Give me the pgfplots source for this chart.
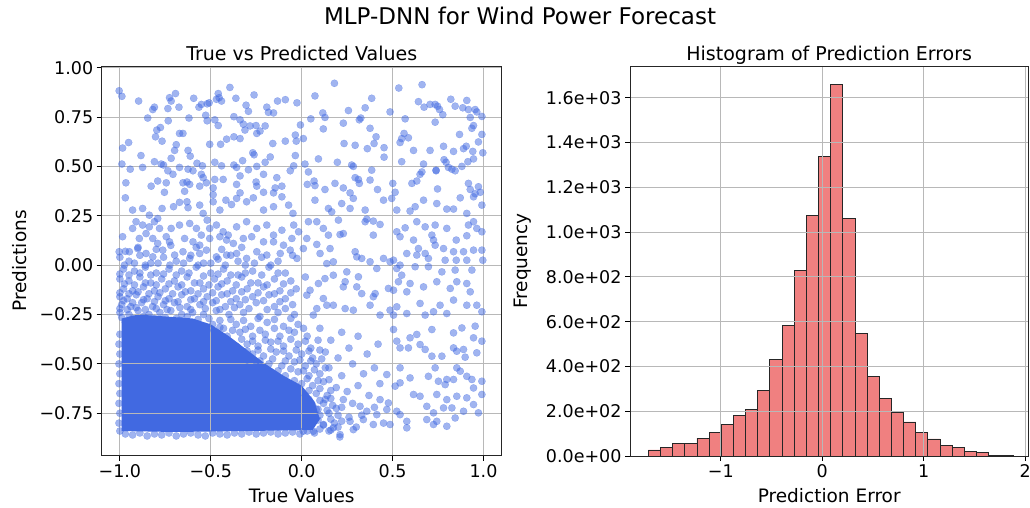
\documentclass[border=0pt]{standalone}
\usepackage{fontspec}
\setmainfont{DejaVu Sans}
\usepackage{pgfplots}
\pgfplotsset{compat=1.18}
\definecolor{rb}{HTML}{4169E1}
\definecolor{lc}{HTML}{F08080}
\definecolor{gridc}{HTML}{B8B8B8}
\pgfplotsset{
  mystyle/.style={
    scale only axis,
    tick align=outside, tick pos=left, major tick length=5pt,
    tick style={black, line width=0.8pt},
    axis line style={line width=0.8pt, black!85},
    grid=major, grid style={gridc, line width=0.8pt},
    axis on top,
    ticklabel style={font=\fontsize{17.5}{20}\selectfont},
  }
}
\begin{document}
\begin{tikzpicture}
\useasboundingbox (0pt,0pt) rectangle (1030pt,508pt);
\begin{scope}[xshift=101.7pt, yshift=52.3pt]
\begin{axis}[mystyle, anchor=south west, at={(0pt,0pt)}, width=400pt, height=389pt,
  xmin=-1.1, xmax=1.1, ymin=-0.965, ymax=1.005,
  xtick={-1,-0.5,0,0.5,1}, xticklabels={−1.0,−0.5,0.0,0.5,1.0},
  ytick={-0.75,-0.5,-0.25,0,0.25,0.5,0.75,1},
  yticklabels={−0.75,−0.50,−0.25,0.00,0.25,0.50,0.75,1.00}]
\addplot[fill=rb, draw=none, mark=none] coordinates {
(-0.99,-0.84) (-0.99,-0.27) (-0.9,-0.25) (-0.75,-0.26) (-0.6,-0.27) (-0.5,-0.30)
(-0.4,-0.36) (-0.3,-0.43) (-0.2,-0.50) (-0.1,-0.56) (0.0,-0.61) (0.07,-0.69)
(0.1,-0.78) (0.06,-0.835) (-0.3,-0.84) (-0.7,-0.845)};
\addplot[only marks, mark=*, mark size=3.65pt,
  mark options={solid, fill=rb, draw=rb, fill opacity=0.5, draw opacity=0.5, line width=0.2pt}]
coordinates {
(-1.004,0.883) (-0.989,0.855) (-0.897,0.831) (-0.819,0.788) (-0.810,0.800) (-0.847,0.745) (-0.727,0.848) (-0.718,0.831) (-0.694,0.869) (-0.736,0.793) (-0.675,0.800) (-0.594,0.845) (-0.565,0.800) (-0.552,0.814) (-0.520,0.817) (-0.509,0.822) (-0.459,0.869) (-0.454,0.848) (-0.469,0.840) (-0.441,0.831) (-0.395,0.900) (-0.362,0.845) (-0.262,0.862) (-0.306,0.810) (-0.293,0.779) (-0.192,0.800) (-0.183,0.774) (-0.155,0.771) (-0.133,0.831) (-0.090,0.838) (-0.026,0.822) (-0.528,0.759) (-0.620,0.745) (-0.734,0.731) (-0.520,0.731) (-0.478,0.736) (-0.459,0.707) (-0.373,0.752) (-0.339,0.736) (-0.321,0.714) (-0.284,0.705) (-0.312,0.684) (-0.251,0.707) (-0.201,0.705) (-0.229,0.679) (-0.247,0.667) (-0.007,0.710) (-0.035,0.659) (-0.777,0.697) (-0.797,0.684) (-0.804,0.650) (-0.768,0.628) (-0.672,0.667) (-0.653,0.667) (-0.690,0.610) (-0.985,0.593) (-0.952,0.621) (-0.884,0.555) (-0.699,0.581) (-0.718,0.541) (-0.625,0.581) (-0.613,0.552) (-0.506,0.612) (-0.446,0.612) (-0.413,0.638) (-0.373,0.650) (-0.339,0.641) (-0.269,0.569) (-0.262,0.559) (-0.159,0.616) (-0.090,0.628) (-0.030,0.628) (-0.035,0.555) (-0.173,0.548) (-0.989,0.512) (-0.943,0.486) (-0.875,0.495) (-0.810,0.524) (-0.773,0.512) (-0.760,0.507) (-0.736,0.478) (-0.708,0.460) (-0.672,0.495) (-0.625,0.486) (-0.598,0.478) (-0.576,0.516) (-0.546,0.503) (-0.552,0.460) (-0.542,0.443) (-0.478,0.521) (-0.441,0.503) (-0.478,0.434) (-0.432,0.434) (-0.373,0.507) (-0.358,0.495) (-0.339,0.452) (-0.325,0.529) (-0.293,0.483) (-0.247,0.500) (-0.201,0.521) (-0.210,0.460) (-0.251,0.421) (-0.137,0.443) (-0.063,0.478) (-0.044,0.503) (-0.967,0.417) (-0.828,0.400) (-0.792,0.426) (-0.745,0.417) (-0.653,0.417) (-0.631,0.421) (-0.616,0.409) (-0.561,0.400) (-0.524,0.417) (-0.487,0.391) (-0.358,0.409) (-0.247,0.400) (-0.146,0.391) (-0.109,0.400) (-0.755,0.369) (-0.644,0.374) (-0.487,0.357) (-0.339,0.366) (-0.210,0.369) (-0.155,0.366)
(0.180,0.921) (0.073,0.857) (0.534,0.897) (0.662,0.914) (0.385,0.845) (0.349,0.797) (0.257,0.783) (0.116,0.771) (0.128,0.748) (0.050,0.741) (0.486,0.776) (0.642,0.828) (0.673,0.800) (0.706,0.814) (0.734,0.814) (0.747,0.805) (0.758,0.788) (0.776,0.762) (0.820,0.840) (0.844,0.805) (0.908,0.834) (0.886,0.797) (0.917,0.788) (0.954,0.788) (0.963,0.776) (0.927,0.748) (0.991,0.753) (0.569,0.741) (0.734,0.724) (0.325,0.745) (0.317,0.736) (0.229,0.719) (0.119,0.690) (0.376,0.693) (0.945,0.707) (0.936,0.693) (0.868,0.662) (0.991,0.662) (0.409,0.650) (0.398,0.616) (0.233,0.616) (0.294,0.607) (0.361,0.590) (0.453,0.595) (0.453,0.547) (0.541,0.621) (0.550,0.641) (0.563,0.667) (0.587,0.645) (0.615,0.581) (0.706,0.581) (0.780,0.602) (0.835,0.576) (0.890,0.590) (0.905,0.602) (0.941,0.576) (0.972,0.624) (0.996,0.569) (0.009,0.641) (0.092,0.538) (0.196,0.521) (0.275,0.507) (0.284,0.500) (0.385,0.481) (0.550,0.524) (0.670,0.512) (0.739,0.478) (0.783,0.534) (0.794,0.521) (0.807,0.495) (0.826,0.486) (0.844,0.478) (0.881,0.500) (0.914,0.524) (0.945,0.538) (0.018,0.512) (0.037,0.472) (0.068,0.426) (0.073,0.403) (0.031,0.409) (0.128,0.383) (0.183,0.414) (0.229,0.391) (0.266,0.366) (0.294,0.443) (0.312,0.434) (0.317,0.414) (0.376,0.431) (0.417,0.383) (0.501,0.414) (0.514,0.369) (0.606,0.414) (0.633,0.426) (0.651,0.460) (0.661,0.472) (0.739,0.481) (0.747,0.386) (0.917,0.414) (0.927,0.383) (0.972,0.397) (0.982,0.369) (0.954,0.362)
(-0.970,0.341) (-0.930,0.279) (-0.875,0.287) (-0.838,0.253) (-0.792,0.236) (-0.768,0.287) (-0.705,0.296) (-0.672,0.318) (-0.631,0.321) (-0.625,0.291) (-0.561,0.304) (-0.542,0.262) (-0.520,0.228) (-0.487,0.321) (-0.450,0.279) (-0.417,0.329) (-0.386,0.307) (-0.358,0.338) (-0.303,0.321) (-0.266,0.341) (-0.210,0.279) (-0.155,0.296) (-0.109,0.346) (-0.072,0.304) (-0.048,0.262) (-0.911,0.220) (-0.930,0.186) (-0.875,0.203) (-0.838,0.194) (-0.810,0.220) (-0.782,0.186) (-0.718,0.186) (-0.672,0.203) (-0.616,0.211) (-0.579,0.186) (-0.552,0.152) (-0.506,0.186) (-0.469,0.203) (-0.432,0.169) (-0.404,0.152) (-0.358,0.194) (-0.303,0.220) (-0.247,0.186) (-0.192,0.203) (-0.155,0.152) (-0.109,0.177) (-0.044,0.203) (-0.985,0.144) (-0.893,0.135) (-0.856,0.160) (-0.819,0.135) (-0.792,0.110) (-0.745,0.144) (-0.727,0.118) (-0.644,0.135) (-0.598,0.118) (-0.561,0.101) (-0.506,0.135) (-0.450,0.144) (-0.413,0.127) (-0.376,0.110) (-0.321,0.135) (-0.275,0.144) (-0.210,0.118) (-0.155,0.118) (-0.100,0.101) (-0.054,0.135) (-0.017,0.169) (-1.004,0.068) (-0.948,0.068) (-0.902,0.084) (-0.856,0.059) (-0.819,0.042) (-0.764,0.076) (-0.699,0.051) (-0.653,0.068) (-0.616,0.034) (-0.561,0.059) (-0.524,0.076) (-0.469,0.042) (-0.413,0.051) (-0.358,0.059) (-0.303,0.034) (-0.247,0.068) (-0.192,0.051) (-0.118,0.059) (-0.063,0.076) (-0.026,0.034)
(0.073,0.329) (0.147,0.287) (0.165,0.270) (0.220,0.312) (0.266,0.287) (0.284,0.338) (0.349,0.279) (0.450,0.329) (0.495,0.338) (0.523,0.279) (0.596,0.274) (0.624,0.296) (0.670,0.329) (0.743,0.312) (0.798,0.284) (0.835,0.284) (0.872,0.341) (0.908,0.262) (0.945,0.346) (0.991,0.304) (0.037,0.220) (0.083,0.220) (0.119,0.186) (0.147,0.152) (0.202,0.228) (0.211,0.155) (0.229,0.160) (0.349,0.220) (0.358,0.233) (0.394,0.223) (0.431,0.206) (0.394,0.152) (0.523,0.169) (0.541,0.144) (0.569,0.189) (0.615,0.127) (0.633,0.220) (0.679,0.194) (0.716,0.152) (0.725,0.127) (0.734,0.203) (0.798,0.186) (0.850,0.127) (0.908,0.149) (0.917,0.203) (0.945,0.220) (0.963,0.186) (0.991,0.169) (0.028,0.135) (0.009,0.084) (0.083,0.105) (0.101,0.059) (0.156,0.084) (0.174,0.017) (0.138,0.008) (0.294,0.068) (0.303,0.042) (0.330,0.034) (0.376,0.017) (0.413,-0.017) (0.450,0.034) (0.486,0.017) (0.505,0.025) (0.523,-0.017) (0.541,0.000) (0.578,0.059) (0.633,0.051) (0.642,0.084) (0.679,0.059) (0.697,0.034) (0.734,0.101) (0.780,0.084) (0.789,0.025) (0.835,0.068) (0.850,0.025) (0.890,0.068) (0.908,0.025) (0.945,0.076) (0.991,0.076) (0.996,0.025) (0.936,-0.025) (0.844,-0.025) (0.771,-0.034) (0.697,-0.008) (0.624,-0.008) (0.550,-0.051) (0.532,-0.084) (0.505,-0.127) (0.477,-0.118) (0.404,-0.144) (0.394,-0.160) (0.330,-0.144) (0.248,-0.034) (0.239,-0.084) (0.312,-0.059) (0.303,-0.110) (0.229,-0.110) (0.174,-0.051) (0.128,-0.068) (0.092,-0.093) (0.046,-0.127) (0.028,-0.152) (0.119,-0.169) (0.138,-0.203) (0.174,-0.203) (0.083,-0.220) (0.064,-0.253) (0.239,-0.220) (0.284,-0.228) (0.376,-0.203) (0.431,-0.253) (0.486,-0.228) (0.523,-0.211) (0.578,-0.135) (0.596,-0.093) (0.670,-0.110) (0.743,-0.084) (0.817,-0.118) (0.853,-0.084) (0.908,-0.093) (0.927,-0.135) (0.835,-0.177) (0.908,-0.203) (0.963,-0.203) (0.991,-0.236) (0.761,-0.203) (0.725,-0.236) (0.651,-0.194) (0.578,-0.245) (0.505,-0.253) (0.679,-0.253) (0.798,-0.245)
(0.523,-0.385) (0.541,-0.419) (0.587,-0.419) (0.596,-0.368) (0.633,-0.351) (0.651,-0.402) (0.679,-0.427) (0.716,-0.461) (0.716,-0.326) (0.771,-0.461) (0.835,-0.419) (0.853,-0.436) (0.890,-0.427) (0.899,-0.466) (0.963,-0.444) (0.945,-0.368) (0.991,-0.385) (0.954,-0.309) (0.881,-0.318) (0.835,-0.343) (0.505,-0.326) (0.541,-0.520) (0.596,-0.571) (0.468,-0.554) (0.514,-0.613) (0.541,-0.596) (0.615,-0.655) (0.651,-0.664) (0.697,-0.563) (0.734,-0.520) (0.752,-0.588) (0.798,-0.579) (0.789,-0.605) (0.835,-0.579) (0.853,-0.520) (0.872,-0.537) (0.908,-0.563) (0.936,-0.579) (0.991,-0.588) (0.991,-0.655) (0.945,-0.622) (0.908,-0.672) (0.853,-0.664) (0.798,-0.681) (0.743,-0.655) (0.688,-0.715) (0.725,-0.748) (0.780,-0.723) (0.826,-0.723) (0.844,-0.774) (0.890,-0.740) (0.945,-0.706) (0.972,-0.748) (0.725,-0.807) (0.798,-0.816) (0.743,-0.791) (0.688,-0.782) (0.578,-0.791) (0.578,-0.824) (0.541,-0.757) (0.523,-0.740) (0.468,-0.731) (0.413,-0.757) (0.394,-0.807) (0.486,-0.807) (0.477,-0.698) (0.358,-0.740) (0.339,-0.782) (0.266,-0.791) (0.284,-0.833) (0.211,-0.858) (0.174,-0.824) (0.119,-0.807) (0.064,-0.841) (0.009,-0.841) (0.229,-0.681) (0.321,-0.715) (0.431,-0.681)
(-1.0,0.04) (-0.95,0.02) (-0.89,0.05) (-0.83,0.01) (-0.76,0.04) (-0.69,0.02) (-0.61,0.05) (-0.54,0.01) (-0.46,0.03) (-0.39,0.05) (-0.31,0.0) (-0.22,0.04) (-0.13,0.02) (-0.05,0.05)
(-0.98,-0.02) (-0.92,-0.03) (-0.86,-0.01) (-0.80,-0.04) (-0.73,-0.02) (-0.66,-0.03) (-0.58,-0.01) (-0.50,-0.04) (-0.43,-0.02) (-0.35,-0.05) (-0.27,-0.03) (-0.18,-0.01) (-0.09,-0.04)
(-1.0,-0.07) (-0.95,-0.08) (-0.89,-0.06) (-0.83,-0.09) (-0.77,-0.07) (-0.70,-0.08) (-0.63,-0.06) (-0.56,-0.09) (-0.48,-0.07) (-0.41,-0.08) (-0.33,-0.06) (-0.24,-0.09) (-0.15,-0.07) (-0.06,-0.08) (0.02,-0.06)
(-0.98,-0.12) (-0.93,-0.13) (-0.87,-0.11) (-0.81,-0.13) (-0.75,-0.12) (-0.68,-0.11) (-0.61,-0.13) (-0.54,-0.12) (-0.46,-0.11) (-0.38,-0.13) (-0.30,-0.12) (-0.21,-0.11) (-0.12,-0.13) (-0.03,-0.12)
(-1.0,-0.16) (-0.96,-0.17) (-0.91,-0.15) (-0.85,-0.17) (-0.79,-0.16) (-0.73,-0.17) (-0.66,-0.15) (-0.59,-0.17) (-0.52,-0.16) (-0.44,-0.15) (-0.36,-0.17) (-0.27,-0.16) (-0.18,-0.15) (-0.09,-0.17)
(-0.99,-0.20) (-0.94,-0.21) (-0.88,-0.19) (-0.82,-0.21) (-0.76,-0.20) (-0.70,-0.19) (-0.63,-0.21) (-0.56,-0.20) (-0.49,-0.19) (-0.42,-0.21) (-0.34,-0.20) (-0.25,-0.19) (-0.15,-0.21) (-0.05,-0.20)
(-1.0,-0.24) (-0.95,-0.25) (-0.90,-0.23) (-0.84,-0.25) (-0.78,-0.24) (-0.72,-0.23) (-0.66,-0.25) (-0.60,-0.24) (-0.54,-0.25) (-0.47,-0.23) (-0.40,-0.25) (-0.32,-0.24) (-0.23,-0.26) (-0.13,-0.24) (-0.04,-0.25)
(-0.97,-0.29) (-0.91,-0.30) (-0.85,-0.28) (-0.79,-0.29) (-0.73,-0.30) (-0.67,-0.28) (-0.61,-0.30) (-0.55,-0.31) (-0.49,-0.30) (-0.43,-0.32) (-0.36,-0.30) (-0.28,-0.31) (-0.19,-0.29) (-0.10,-0.31) (-0.02,-0.30)
(-0.47,-0.35) (-0.41,-0.36) (-0.34,-0.34) (-0.27,-0.36) (-0.20,-0.35) (-0.12,-0.36) (-0.04,-0.34) (0.03,-0.36)
(-0.36,-0.41) (-0.30,-0.40) (-0.24,-0.41) (-0.17,-0.39) (-0.10,-0.41) (-0.02,-0.40) (0.05,-0.42)
(-0.33,-0.46) (-0.27,-0.45) (-0.21,-0.46) (-0.14,-0.44) (-0.07,-0.46) (0.0,-0.45) (0.06,-0.47)
(-0.25,-0.51) (-0.18,-0.50) (-0.11,-0.51) (-0.04,-0.49) (0.02,-0.51) (0.08,-0.50)
(-0.16,-0.55) (-0.09,-0.56) (-0.02,-0.54) (0.04,-0.56) (0.10,-0.55)
(-0.06,-0.61) (0.0,-0.60) (0.06,-0.61) (0.12,-0.59)
(0.02,-0.66) (0.08,-0.65) (0.14,-0.66) (0.06,-0.71) (0.12,-0.70) (0.17,-0.71)
(0.1,-0.76) (0.15,-0.75) (0.20,-0.76) (0.12,-0.81) (0.18,-0.80)
(-0.97,0.07) (-0.90,0.09) (-0.80,0.08) (-0.72,0.10) (-0.58,0.09) (-0.44,0.08) (-0.33,0.09)
(-0.975,0.0) (-0.92,0.01) (-0.86,0.0) (-0.79,0.01) (-0.725,0.0) (-0.65,0.01) (-0.57,0.0) (-0.5,0.01) (-0.42,0.0) (-0.35,0.02) (-0.26,0.01) (-0.17,0.0)
(-1.0,-0.045) (-0.95,-0.05) (-0.89,-0.04) (-0.83,-0.05) (-0.76,-0.045) (-0.69,-0.05) (-0.62,-0.04) (-0.54,-0.055) (-0.46,-0.045) (-0.39,-0.05) (-0.31,-0.04) (-0.22,-0.05) (-0.13,-0.04)
(-0.975,-0.095) (-0.92,-0.10) (-0.86,-0.09) (-0.80,-0.10) (-0.73,-0.095) (-0.66,-0.10) (-0.59,-0.09) (-0.51,-0.10) (-0.44,-0.095) (-0.36,-0.10) (-0.28,-0.09) (-0.19,-0.10) (-0.10,-0.095)
(-1.0,-0.14) (-0.95,-0.145) (-0.90,-0.135) (-0.84,-0.145) (-0.78,-0.14) (-0.71,-0.145) (-0.64,-0.135) (-0.57,-0.145) (-0.49,-0.14) (-0.41,-0.145) (-0.33,-0.135) (-0.24,-0.14) (-0.15,-0.145) (-0.06,-0.14)
(-0.98,-0.18) (-0.93,-0.19) (-0.87,-0.175) (-0.81,-0.185) (-0.75,-0.18) (-0.68,-0.185) (-0.61,-0.175) (-0.54,-0.185) (-0.47,-0.18) (-0.39,-0.185) (-0.31,-0.175) (-0.21,-0.18) (-0.12,-0.185)
(-1.0,-0.22) (-0.96,-0.225) (-0.91,-0.215) (-0.86,-0.225) (-0.80,-0.22) (-0.74,-0.225) (-0.67,-0.215) (-0.61,-0.225) (-0.53,-0.22) (-0.45,-0.225) (-0.37,-0.215) (-0.29,-0.22) (-0.19,-0.225) (-0.09,-0.22)
(-0.99,-0.265) (-0.93,-0.27) (-0.87,-0.26) (-0.81,-0.27) (-0.75,-0.265) (-0.69,-0.27) (-0.63,-0.26) (-0.57,-0.275) (-0.51,-0.27) (-0.45,-0.28) (-0.39,-0.275) (-0.32,-0.28) (-0.24,-0.27) (-0.15,-0.275) (-0.06,-0.27)
(-0.52,-0.33) (-0.45,-0.315) (-0.38,-0.33) (-0.31,-0.325) (-0.23,-0.33) (-0.15,-0.32) (-0.07,-0.33) (0.01,-0.32)
(-0.42,-0.38) (-0.33,-0.375) (-0.27,-0.385) (-0.20,-0.38) (-0.13,-0.385) (-0.06,-0.375) (0.02,-0.385) (0.09,-0.38)
(-0.38,-0.43) (-0.30,-0.435) (-0.24,-0.43) (-0.17,-0.425) (-0.10,-0.435) (-0.03,-0.43) (0.04,-0.435) (0.10,-0.43)
(-0.30,-0.48) (-0.23,-0.485) (-0.16,-0.475) (-0.09,-0.485) (-0.01,-0.48) (0.05,-0.485) (0.11,-0.475)
(-0.21,-0.53) (-0.13,-0.535) (-0.06,-0.525) (0.01,-0.535) (0.07,-0.53) (0.13,-0.52)
(-0.12,-0.58) (-0.04,-0.585) (0.03,-0.575) (0.09,-0.585) (0.15,-0.58)
(-0.03,-0.63) (0.04,-0.635) (0.10,-0.625) (0.16,-0.635)
(0.04,-0.68) (0.10,-0.685) (0.16,-0.675) (0.08,-0.73) (0.14,-0.735) (0.19,-0.725)
(0.09,-0.785) (0.16,-0.78) (0.22,-0.79) (0.10,-0.83) (0.16,-0.835)
(-1.0,-0.84) (-0.97,-0.855) (-0.93,-0.86) (-0.89,-0.85) (-0.85,-0.865) (-0.81,-0.855) (-0.77,-0.86) (-0.73,-0.85) (-0.69,-0.865) (-0.65,-0.855) (-0.61,-0.85) (-0.57,-0.86) (-0.53,-0.865) (-0.49,-0.85) (-0.45,-0.855) (-0.41,-0.86) (-0.37,-0.85) (-0.33,-0.855) (-0.29,-0.845) (-0.25,-0.855) (-0.21,-0.85) (-0.17,-0.845) (-0.13,-0.855) (-0.09,-0.85) (-0.05,-0.845) (-0.01,-0.855) (0.03,-0.84) (0.07,-0.85) (0.21,-0.87)
(-1.005,-0.80) (-1.0,-0.75) (-1.005,-0.70) (-1.0,-0.65) (-1.005,-0.60) (-1.0,-0.55) (-1.005,-0.50) (-1.0,-0.45) (-1.005,-0.40) (-1.0,-0.35)
(0.10,-0.32) (0.16,-0.38) (0.22,-0.34) (0.13,-0.44) (0.20,-0.47) (0.26,-0.42) (0.31,-0.36) (0.36,-0.45) (0.42,-0.40) (0.15,-0.52) (0.22,-0.56) (0.28,-0.50) (0.34,-0.55) (0.40,-0.52) (0.19,-0.62) (0.25,-0.64) (0.31,-0.61) (0.37,-0.66) (0.43,-0.60) (0.22,-0.72) (0.28,-0.70) (0.33,-0.76) (0.26,-0.77) (0.15,-0.84) (0.40,-0.72) (0.45,-0.80) (0.30,-0.82) (0.05,-0.79) (0.09,-0.73) (0.13,-0.68) (0.20,-0.82)
};
\end{axis}
\end{scope}
\begin{scope}[xshift=630pt, yshift=52pt]
\begin{axis}[mystyle, anchor=south west, at={(0pt,0pt)}, width=398.3pt, height=390pt,
  xmin=-1.895, xmax=2.03, ymin=0, ymax=1742,
  xtick={-1,0,1,2}, xticklabels={−1,0,1,2},
  ytick={0,200,400,600,800,1000,1200,1400,1600},
  yticklabels={0.0e+00,2.0e+02,4.0e+02,6.0e+02,8.0e+02,1.0e+03,1.2e+03,1.4e+03,1.6e+03}]
\addplot[ybar interval, fill=lc, draw=black!85, line width=0.9pt] coordinates {
(-1.714,27) (-1.594,37) (-1.474,54) (-1.355,54) (-1.235,80) (-1.115,103)
(-0.995,140) (-0.875,179) (-0.756,206) (-0.636,292) (-0.516,433) (-0.396,585)
(-0.276,830) (-0.157,1074) (-0.037,1339) (0.083,1659) (0.203,1063) (0.323,547)
(0.442,357) (0.562,255) (0.682,195) (0.802,152) (0.922,104) (1.041,76)
(1.161,48) (1.281,37) (1.401,21) (1.521,15) (1.640,4) (1.760,4) (1.880,4)};
\end{axis}
\end{scope}
\node[anchor=base, font=\fontsize{23}{26}\selectfont] at (520pt,483pt) {MLP-DNN for Wind Power Forecast};
\node[anchor=base, font=\fontsize{19}{22}\selectfont] at (301.7pt,447.3pt) {True vs Predicted Values};
\node[anchor=base, font=\fontsize{19}{22}\selectfont] at (829.2pt,447.3pt) {Histogram of Prediction Errors};
\node[anchor=base, font=\fontsize{18.5}{21}\selectfont] at (301.7pt,5pt) {True Values};
\node[anchor=base, font=\fontsize{18.5}{21}\selectfont] at (829.2pt,5.3pt) {Prediction Error};
\node[anchor=base, rotate=90, font=\fontsize{18.5}{21}\selectfont] at (26pt,247pt) {Predictions};
\node[anchor=base, rotate=90, font=\fontsize{18.5}{21}\selectfont] at (527.5pt,247pt) {Frequency};
\end{tikzpicture}
\end{document}
